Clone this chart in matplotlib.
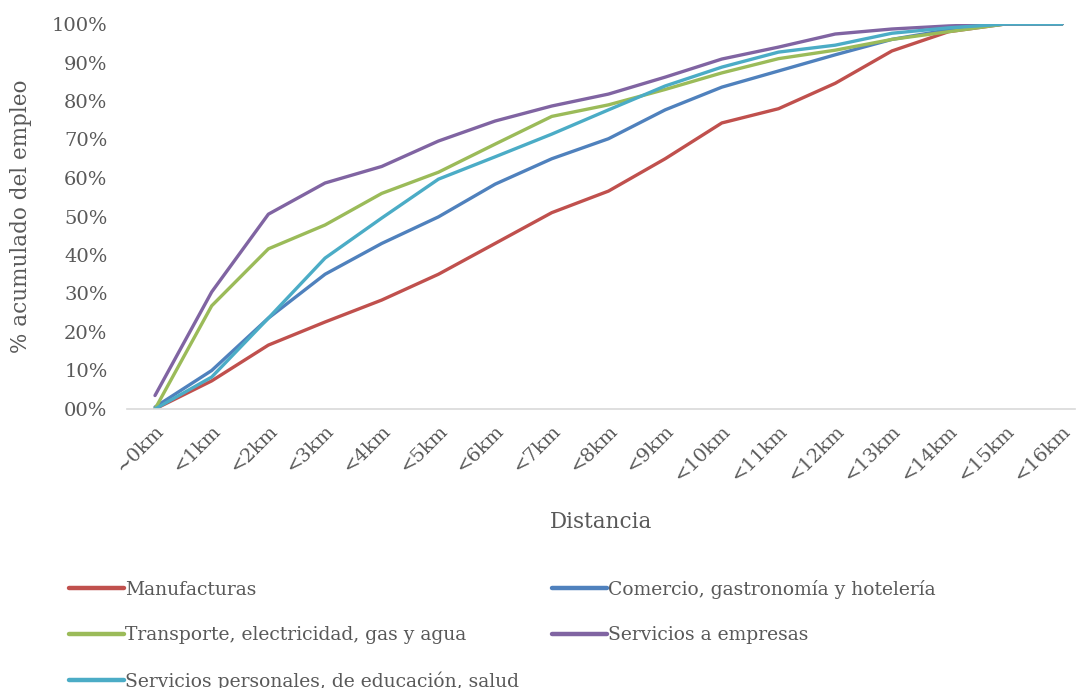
import matplotlib.pyplot as plt
from matplotlib.ticker import FuncFormatter

plt.rcParams['font.family'] = ['DejaVu Serif']

categories = ['~0km', '<1km', '<2km', '<3km', '<4km', '<5km', '<6km', '<7km', '<8km',
              '<9km', '<10km', '<11km', '<12km', '<13km', '<14km', '<15km', '<16km']

manufacturas = [0.0, 7.3, 16.6, 22.6, 28.3, 35.0, 43.0, 51.0, 56.6, 65.0, 74.3, 78.0,
                84.6, 93.0, 98.0, 100.0, 100.0]
comercio = [0.5, 10.0, 23.6, 35.0, 43.0, 49.9, 58.4, 65.0, 70.2, 77.7, 83.6, 87.8,
            92.0, 96.0, 98.5, 100.0, 100.0]
transporte = [0.0, 26.8, 41.6, 47.8, 56.0, 61.5, 68.8, 76.0, 79.0, 83.0, 87.3, 91.0,
              93.2, 96.0, 98.0, 100.0, 100.0]
serv_empresas = [3.5, 30.4, 50.6, 58.7, 63.0, 69.6, 74.8, 78.7, 81.8, 86.2, 90.9, 94.0,
                 97.4, 98.7, 99.5, 100.0, 100.0]
serv_personales = [0.0, 8.3, 23.6, 39.2, 49.6, 59.7, 65.5, 71.4, 77.7, 83.9, 88.8, 92.7,
                   94.5, 97.6, 99.0, 100.0, 100.0]

series = [
    ('Manufacturas', manufacturas, '#C0504D'),
    ('Comercio, gastronomía y hotelería', comercio, '#4F81BD'),
    ('Transporte, electricidad, gas y agua', transporte, '#9BBB59'),
    ('Servicios a empresas', serv_empresas, '#8064A2'),
    ('Servicios personales, de educación, salud', serv_personales, '#4BACC6'),
]

txt = '#595959'
fig = plt.figure(figsize=(10.76, 6.88), dpi=100)
ax = fig.add_axes([127 / 1076, 1 - 409 / 688, (1075 - 127) / 1076, (409 - 24) / 688])

x = range(len(categories))
handles = {}
for name, vals, col in series:
    h, = ax.plot(x, vals, color=col, lw=2.4, label=name, solid_capstyle='round')
    handles[name] = h

ax.set_xlim(-0.494, 16.23)
ax.set_ylim(0, 100)
ax.set_yticks(range(0, 101, 10))
ax.yaxis.set_major_formatter(FuncFormatter(lambda v, p: f'{int(v):02d}%'))
ax.set_xticks(list(x))
ax.set_xticklabels(categories, rotation=45, ha='right', rotation_mode='anchor')
ax.tick_params(axis='both', length=0, labelsize=14, colors=txt)
ax.tick_params(axis='y', pad=14)
ax.tick_params(axis='x', pad=9)
for s in ['top', 'right', 'left']:
    ax.spines[s].set_visible(False)
ax.spines['bottom'].set_color('#d9d9d9')
ax.spines['bottom'].set_linewidth(1.2)
ax.set_xlabel('Distancia', fontsize=15.5, color=txt, labelpad=19)
ax.set_ylabel('% acumulado del empleo', fontsize=15.5, color=txt, labelpad=14)

order = ['Manufacturas', 'Transporte, electricidad, gas y agua',
         'Servicios personales, de educación, salud',
         'Comercio, gastronomía y hotelería', 'Servicios a empresas']
leg = fig.legend([handles[n] for n in order], order, ncol=2, frameon=False,
                 loc='upper left', bbox_to_anchor=(52 / 1076, 1 - 563 / 688),
                 fontsize=13.5, handlelength=2.95, handletextpad=0.05,
                 columnspacing=1.75, labelspacing=1.45)
for t in leg.get_texts():
    t.set_color(txt)
for l in leg.get_lines():
    l.set_linewidth(3.2)

fig.savefig('out.png', dpi=100)
